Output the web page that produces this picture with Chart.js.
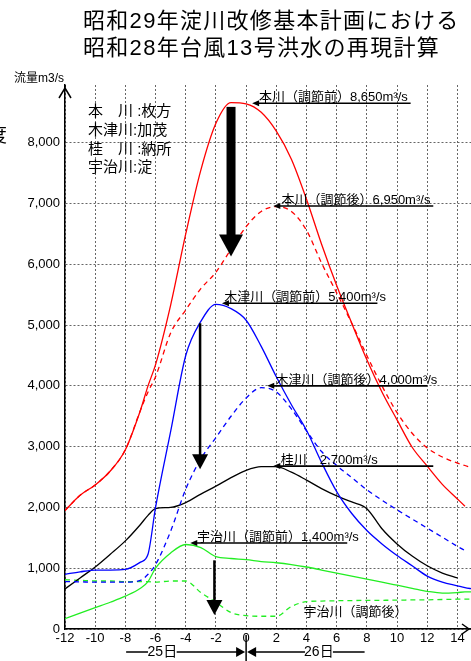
<!DOCTYPE html>
<html>
<head>
<meta charset="utf-8">
<script src="https://cdn.jsdelivr.net/npm/chart.js@4.4.1/dist/chart.umd.min.js"></script>
<style>
  html, body { margin: 0; padding: 0; background: #fff; }
  #wrap { width: 471px; height: 661px; }
</style>
</head>
<body>
<div id="wrap"><canvas id="chart" width="471" height="661"></canvas></div>
<script>
// 時刻（25日0時を0とした時間）
const hours = [-12, -11, -10, -9, -8, -7, -6.5, -6, -5, -4, -3, -2, -1, 0, 1, 2, 3, 4, 5, 6, 7, 8, 9, 10, 11, 12, 13, 14, 14.5, 15];

// 流量 m3/s
const honBefore  = [1950, 2200, 2370, 2600, 2950, 3600, 4000, 4350, 5330, 6500, 7550, 8320, 8660, 8640, 8500, 8190, 7730, 7070, 6330, 5650, 5030, 4430, 3900, 3440, 2990, 2680, 2380, 2140, 2020, null];
const honAfter   = [1950, 2200, 2370, 2600, 2950, 3600, 3900, 4150, 4870, 5250, 5600, 5870, 6250, 6620, 6870, 6950, 6870, 6560, 6020, 5530, 5030, 4500, 4000, 3560, 3220, 2980, 2830, 2730, 2690, 2650];
const kizuBefore = [900, 940, 970, 970, 980, 1100, 1230, 2000, 3250, 4500, 5060, 5340, 5270, 5080, 4650, 4150, 3690, 3270, 2740, 2260, 1900, 1620, 1400, 1210, 1040, 870, 770, 710, 680, 660];
const kizuAfter  = [780, 775, 770, 770, 770, 800, 900, 1060, 1610, 2300, 2800, 3150, 3500, 3800, 3970, 3900, 3620, 3260, 2920, 2690, 2490, 2290, 2120, 1960, 1810, 1660, 1510, 1360, 1290, null];
const katsura    = [660, 840, 1020, 1230, 1450, 1720, 1870, 1980, 2000, 2080, 2220, 2350, 2490, 2610, 2670, 2670, 2580, 2450, 2310, 2190, 2090, 1980, 1650, 1400, 1200, 1040, 920, 840, null, null];
const ujiBefore  = [170, 260, 350, 440, 540, 670, 780, 1000, 1250, 1390, 1340, 1190, 1160, 1140, 1110, 1090, 1060, 1020, 970, 920, 870, 820, 770, 720, 670, 620, 590, 600, 610, 610];
const ujiAfter   = [810, 800, 790, 790, 780, 780, 780, 770, 790, 790, 600, 440, 270, 220, 210, 210, 370, 450, 460, 465, 468, 470, 472, 475, 478, 480, 485, 490, 490, 490];

const xTicks = [-12, -10, -8, -6, -4, -2, 0, 2, 4, 6, 8, 10, 12, 14];
const yTicks = [0, 1000, 2000, 3000, 4000, 5000, 6000, 7000, 8000];

const titleLines = ["昭和29年淀川改修基本計画における", "昭和28年台風13号洪水の再現計算"];
const stationLines = ["本　川 :枚方", "木津川:加茂", "桂　川 :納所", "宇治川:淀"];

// ピーク注記：文字、流量、線の始点・終点（時間）、文字の始点（時間）
const noteTexts = ["本川（調節前）8,650m³/s", "本川（調節後）6,950m³/s", "木津川（調節前）5,400m³/s", "木津川（調節後）4,000m³/s", "桂川　2,700m³/s", "宇治川（調節前）1,400m³/s"];
const noteFlows = [8650, 6960, 5360, 4000, 2680, 1415];
const noteFrom  = [0.4, 1.8, -1.6, 1.4, 1.8, -3.7];
const noteTo    = [10.9, 12.4, 8.7, 12.0, 12.4, 6.7];
const noteTextAt = [0.85, 2.35, -1.45, 1.95, 2.3, -3.25];

// 調節効果の矢印：時間、始点流量、先端流量
const cutHours = [-1, -3.05, -2.1];
const cutTop   = [8590, 5030, 1130];
const cutTip   = [6130, 2630, 230];

const FONT = '"Liberation Sans", "Noto Sans CJK JP", sans-serif';

function pts(vals) {
  return hours.map((h, i) => ({ x: h, y: vals[i] }));
}

function line(label, vals, color, dashed) {
  return {
    label: label,
    data: pts(vals),
    borderColor: color,
    borderWidth: 1.3,
    borderDash: dashed ? [5, 4] : [],
    pointRadius: 0,
    fill: false,
    cubicInterpolationMode: "monotone",
    spanGaps: false
  };
}

function arrowHead(ctx, x, y, dir, len, half) {
  ctx.beginPath();
  ctx.moveTo(x, y);
  ctx.lineTo(x - dir * len, y - half);
  ctx.lineTo(x - dir * len, y + half);
  ctx.closePath();
  ctx.fill();
}

const decor = {
  id: "decor",
  afterDraw(chart) {
    const ctx = chart.ctx;
    const xs = chart.scales.x;
    const ys = chart.scales.y;
    const X = v => xs.getPixelForValue(v);
    const Y = v => ys.getPixelForValue(v);
    const area = chart.chartArea;
    ctx.save();
    ctx.fillStyle = "#000";
    ctx.strokeStyle = "#000";

    // タイトル
    ctx.font = "22px " + FONT;
    ctx.letterSpacing = "1.3px";
    ctx.textBaseline = "middle";
    ctx.textAlign = "left";
    ctx.fillText(titleLines[0], 83, 22);
    ctx.fillText(titleLines[1], 83, 49);
    ctx.letterSpacing = "0px";

    // 左端の切れた文字
    ctx.font = "19px " + FONT;
    ctx.fillText("度", -12, 137);

    // 単位
    ctx.font = "12px " + FONT;
    ctx.fillText("流量m3/s", 14, 79);

    // 地点
    ctx.font = "15px " + FONT;
    stationLines.forEach((s, i) => ctx.fillText(s, 88, 112 + i * 18.7));

    // 軸の矢印
    ctx.lineWidth = 1.5;
    ctx.beginPath();
    ctx.moveTo(area.left - 6, 98);
    ctx.lineTo(area.left, 88);
    ctx.lineTo(area.left + 6, 98);
    ctx.moveTo(area.left, 88);
    ctx.lineTo(area.left, area.top);
    ctx.stroke();
    ctx.beginPath();
    ctx.moveTo(462, area.bottom - 5);
    ctx.lineTo(469, area.bottom);
    ctx.lineTo(462, area.bottom + 5);
    ctx.stroke();

    // ピーク注記
    ctx.font = "13px " + FONT;
    ctx.textBaseline = "alphabetic";
    noteTexts.forEach((t, i) => {
      const y = Y(noteFlows[i]);
      const x1 = X(noteFrom[i]);
      const x2 = X(noteTo[i]);
      ctx.lineWidth = 1.6;
      ctx.beginPath();
      ctx.moveTo(x1 + 5, y);
      ctx.lineTo(x2, y);
      ctx.stroke();
      arrowHead(ctx, x1, y, -1, 7, 3);
      ctx.fillText(t, X(noteTextAt[i]), y - 2);
    });
    ctx.textBaseline = "middle";
    ctx.fillText("宇治川（調節後）", X(3.8), Y(280));

    // 調節効果の矢印
    cutHours.forEach((h, i) => {
      const x = X(h);
      const top = Y(cutTop[i]);
      const tip = Y(cutTip[i]);
      const big = i === 0;
      const headLen = big ? 22 : 15;
      const headHalf = big ? 12 : 8;
      const shaft = big ? 9 : 2.5;
      ctx.fillRect(x - shaft / 2, top, shaft, tip - headLen - top + 1);
      ctx.beginPath();
      ctx.moveTo(x - headHalf, tip - headLen);
      ctx.lineTo(x + headHalf, tip - headLen);
      ctx.lineTo(x, tip);
      ctx.closePath();
      ctx.fill();
    });

    // 日付
    const rowY = 652;
    const x0 = X(0);
    ctx.lineWidth = 1.5;
    ctx.beginPath();
    ctx.moveTo(x0, 635);
    ctx.lineTo(x0, 661);
    ctx.moveTo(X(-7.95), rowY);
    ctx.lineTo(X(-6.5), rowY);
    ctx.moveTo(X(-4.6), rowY);
    ctx.lineTo(x0 - 6, rowY);
    ctx.moveTo(x0 + 6, rowY);
    ctx.lineTo(X(3.9), rowY);
    ctx.moveTo(X(5.75), rowY);
    ctx.lineTo(X(7.85), rowY);
    ctx.stroke();
    arrowHead(ctx, x0 - 1, rowY, 1, 9, 5);
    arrowHead(ctx, x0 + 1, rowY, -1, 9, 5);
    ctx.font = "14px " + FONT;
    ctx.textAlign = "center";
    ctx.fillText("25日", X(-5.55), rowY);
    ctx.fillText("26日", X(4.82), rowY);
    ctx.restore();
  }
};

const ctx = document.getElementById("chart").getContext("2d");
new Chart(ctx, {
  type: "line",
  data: {
    datasets: [
      line("本川(調節前)", honBefore, "#ff0000", false),
      line("本川(調節後)", honAfter, "#ff0000", true),
      line("木津川(調節前)", kizuBefore, "#0000ff", false),
      line("木津川(調節後)", kizuAfter, "#0000ff", true),
      line("桂川", katsura, "#000000", false),
      line("宇治川(調節前)", ujiBefore, "#22ee22", false),
      line("宇治川(調節後)", ujiAfter, "#22ee22", true)
    ]
  },
  options: {
    responsive: false,
    animation: false,
    layout: { padding: { top: 85, left: 0, right: 0, bottom: 0 } },
    plugins: {
      legend: { display: false },
      tooltip: { enabled: false }
    },
    scales: {
      x: {
        type: "linear",
        min: -12,
        max: 14.9,
        afterFit(scale) { scale.height = 32; },
        afterBuildTicks(scale) { scale.ticks = xTicks.map(v => ({ value: v })); },
        ticks: {
          includeBounds: false,
          color: "#000",
          padding: 2,
          maxRotation: 0,
          font: { family: FONT, size: 13 }
        },
        grid: { color: "#666", lineWidth: 1, drawTicks: false },
        border: { color: "#000", width: 1.5, dash: [2, 2] }
      },
      y: {
        min: 0,
        max: 8950,
        afterFit(scale) { scale.width = 65; },
        afterBuildTicks(scale) { scale.ticks = yTicks.map(v => ({ value: v })); },
        ticks: {
          includeBounds: false,
          color: "#000",
          padding: 5,
          font: { family: FONT, size: 13 },
          callback: v => v.toLocaleString("en-US")
        },
        grid: { color: "#666", lineWidth: 1, drawTicks: false },
        border: { color: "#000", width: 1.5, dash: [2, 2] }
      }
    }
  },
  plugins: [decor]
});
</script>
</body>
</html>
